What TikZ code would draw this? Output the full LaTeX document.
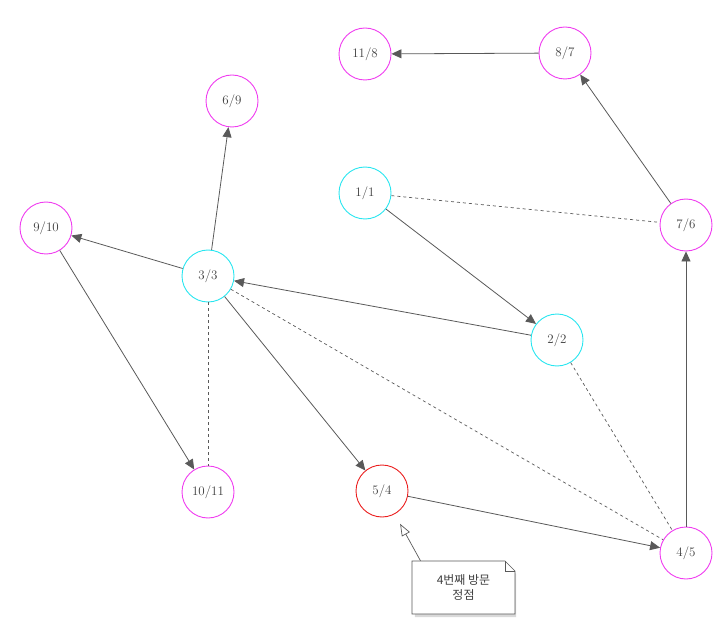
\documentclass[tikz,border=0pt]{standalone}
\usepackage{fontspec}
\newfontfamily\kofont{Noto Sans CJK KR}
\usetikzlibrary{arrows.meta}
\definecolor{treepink}{RGB}{240,60,240}
\definecolor{startcyan}{RGB}{40,230,240}
\definecolor{visitred}{RGB}{235,30,30}

\begin{document}
\begin{tikzpicture}[
    x=1pt, y=-1pt,
    every node/.style={font=\fontsize{13}{15}\selectfont, text=black!75},
    vertex/.style={draw, circle, minimum size=52pt, inner sep=0pt, fill=white, line width=0.9pt},
    tree/.style={vertex, draw=treepink},
    start/.style={vertex, draw=startcyan},
    visit/.style={vertex, draw=visitred},
    flow/.style={-{Triangle[length=10pt, width=9pt]}, draw=black!65, line width=0.8pt},
    back/.style={dashed, draw=black!65, line width=0.7pt},
    notebox/.style={align=center, minimum width=103pt, minimum height=53pt, inner sep=2pt}
]
\useasboundingbox (0,0) rectangle (728,628);
\node[tree] (n118) at (365,54) {11/8};
\node[tree] (n87) at (565,53) {8/7};
\node[tree] (n69) at (232,101) {6/9};
\node[start] (n11) at (365,193) {1/1};
\node[tree] (n76) at (686,225) {7/6};
\node[tree] (n910) at (46,228) {9/10};
\node[start] (n33) at (208,276) {3/3};
\node[start] (n22) at (557,340) {2/2};
\node[tree] (n1011) at (208,492) {10/11};
\node[visit] (n54) at (382,491) {5/4};
\node[tree] (n45) at (686,553) {4/5};
\draw[back] (n11) -- (n76);
\draw[back] (n33) -- (n1011);
\draw[back] (n33) -- (n45);
\draw[back] (n22) -- (n45);
\draw[flow] (n87) -- (n118);
\draw[flow] (n76) -- (n87);
\draw[flow] (n45) -- (n76);
\draw[flow] (n54) -- (n45);
\draw[flow] (n33) -- (n54);
\draw[flow] (n22) -- (n33);
\draw[flow] (n11) -- (n22);
\draw[flow] (n33) -- (n69);
\draw[flow] (n33) -- (n910);
\draw[flow] (n910) -- (n1011);
% note
\coordinate (note) at (463.5,587.5);
\fill[black!15] (413,564) -- (506,564) -- (516,574) -- (516,617) -- (415,617) -- cycle;
\draw[black!65, fill=white, line width=0.7pt] (412,561) -- (505,561) -- (515,571) -- (515,614) -- (412,614) -- cycle;
\draw[black!65, line width=0.7pt] (505,561) -- (505,571) -- (515,571);
\node[notebox] (notetext) at (note) {\kofont\fontsize{12}{14}\selectfont 4번째 방문\\\kofont\fontsize{12}{14}\selectfont 정점};
\draw[-{Triangle[open, length=12pt, width=9pt]}, black!65, line width=0.7pt, shorten >=11pt] ([xshift=-43pt]notetext.north) -- (n54);
\end{tikzpicture}
\end{document}
